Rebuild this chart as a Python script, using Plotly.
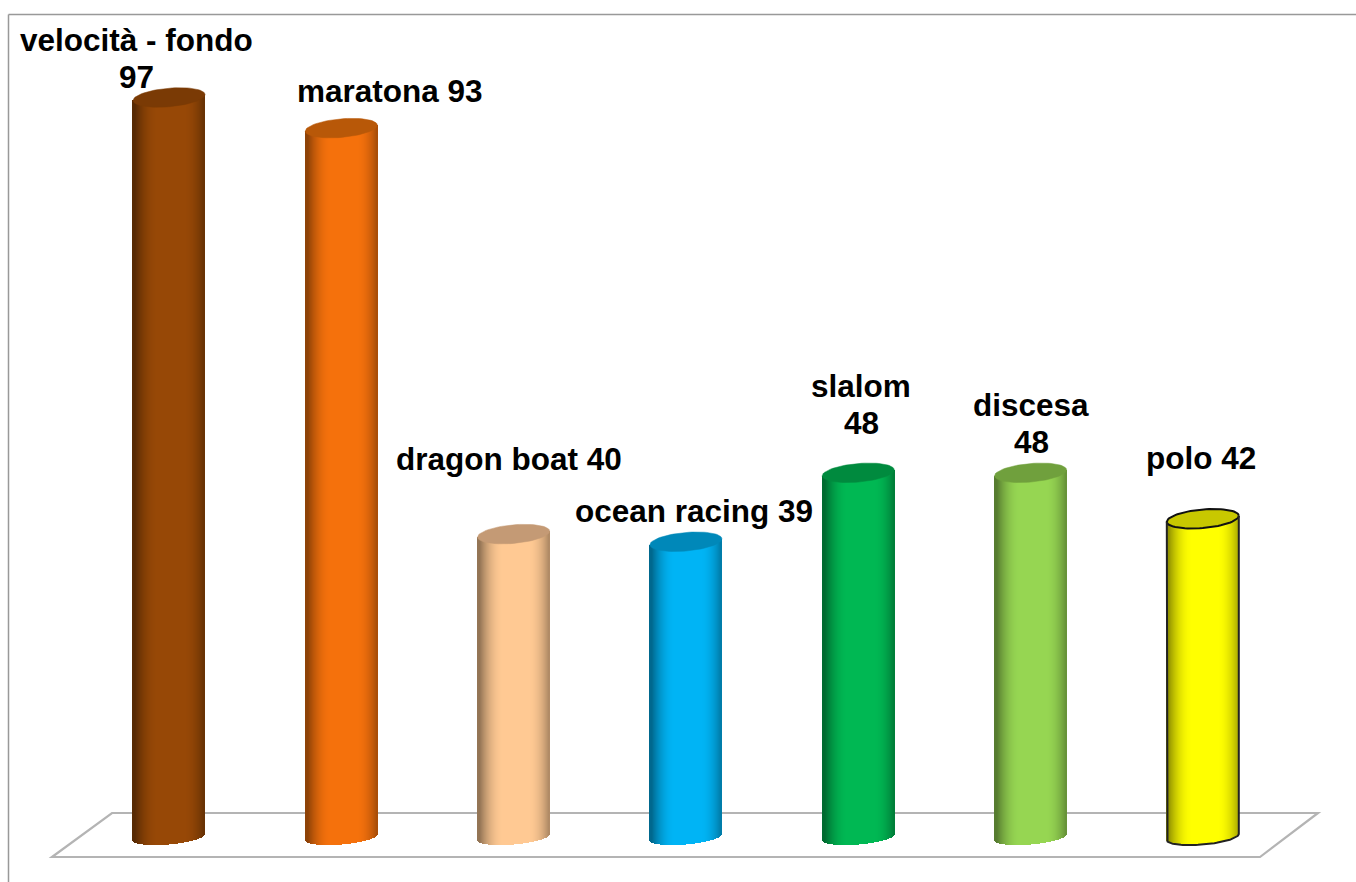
import math
import plotly.graph_objects as go

# ---- chart data ----
categories = ["velocità - fondo", "maratona", "dragon boat", "ocean racing", "slalom", "discesa", "polo"]
values = [97, 93, 40, 39, 48, 48, 42]
body_colors = ["#974806", "#F5710C", "#FFC993", "#00B4F5", "#00B853", "#96D652", "#FFFF00"]
cap_colors = ["#7A3A05", "#B85808", "#C49A75", "#0088B9", "#008A3E", "#70A03D", "#C8C800"]
label_lines = [["velocità - fondo", "97"], ["maratona 93"], ["dragon boat 40"], ["ocean racing 39"],
               ["slalom", "48"], ["discesa", "48"], ["polo 42"]]
outlined = [False, False, False, False, False, False, True]

# ---- layout constants (pixels in the 1356x882 page) ----
W, H = 1356, 882
X0_PX, STEP_PX = 169.0, 172.3      # centre of first cylinder, spacing
Y0_PX, PX_PER_UNIT = 840.5, 7.66   # pixel row of value 0, scale
BASE_PX = 837.0                    # pixel row of the centre of the cylinder bottoms
HALF_W = 36.0                      # cylinder half width
RY_TOP, RY_BOT, TILT = 9.3, 7.5, 3.0   # ellipse half heights, tilt
N = 72
LINE_GAP = 37
label_px = [(136, 58.5), (390, 91), (509, 459), (694, 511), (861, 404), (1031, 423), (1201, 458)]

xr = [(0 - X0_PX) / STEP_PX, (W - X0_PX) / STEP_PX]
yr = [(Y0_PX - H) / PX_PER_UNIT, Y0_PX / PX_PER_UNIT]
dx = HALF_W / STEP_PX
ky = 1 / PX_PER_UNIT
base_v = (Y0_PX - BASE_PX) * ky


def shade(hex_color, f):
    r, g, b = (int(hex_color[i:i + 2], 16) for i in (1, 3, 5))
    return f"rgb({round(r * f)},{round(g * f)},{round(b * f)})"


def factor(u):
    t = min(1.0, max(0.0, (1 - abs(u - 0.08)) / 0.65))
    return 0.58 + 0.42 * (t * (2 - t))


fig = go.Figure()

for i, (v, col, cap, outl) in enumerate(zip(values, body_colors, cap_colors, outlined)):
    us = [-1 + (2 * k + 1) / N for k in range(N)]
    xs = [i + u * dx for u in us]
    bases = [base_v + (TILT * u - RY_BOT * math.sqrt(1 - u * u)) * ky for u in us]
    tops = [v + (TILT * u) * ky for u in us]
    fig.add_trace(go.Bar(
        x=xs, base=bases, y=[t - b for t, b in zip(tops, bases)],
        width=2 * dx / N * 1.15,
        marker=dict(color=[shade(col, factor(u)) for u in us], line=dict(width=0)),
        hoverinfo="skip", showlegend=False,
    ))
    ts = [2 * math.pi * k / 72 for k in range(73)]
    fig.add_trace(go.Scatter(
        x=[i + dx * math.cos(t) for t in ts],
        y=[v + (TILT * math.cos(t) + RY_TOP * math.sin(t)) * ky for t in ts],
        mode="lines", fill="toself", fillcolor=cap,
        line=dict(color="#111111" if outl else cap, width=2 if outl else 0.5),
        hoverinfo="skip", showlegend=False,
    ))
    if outl:
        arc = [math.pi - math.pi * k / 48 for k in range(49)]
        ox = [i - dx] + [i + dx * math.cos(t) for t in arc] + [i + dx]
        oy = [v - TILT * ky] + [base_v + (TILT * math.cos(t) - RY_BOT * math.sin(t)) * ky for t in arc] + [v + TILT * ky]
        fig.add_trace(go.Scatter(x=ox, y=oy, mode="lines", line=dict(color="#222222", width=2),
                                 hoverinfo="skip", showlegend=False))


def px(x):
    return x / W


def py(y):
    return 1 - y / H


floor = [(52, 857), (112, 813), (1318, 813), (1260, 857)]
path = "M " + " L ".join(f"{px(a):.5f},{py(b):.5f}" for a, b in floor) + " Z"
shapes = [
    dict(type="path", xref="paper", yref="paper", path=path, layer="below",
         line=dict(color="#B4B4B4", width=2.2), fillcolor="white"),
    dict(type="line", xref="paper", yref="paper", x0=px(8.5), x1=1, y0=py(14.5), y1=py(14.5),
         line=dict(color="#999999", width=1.5)),
    dict(type="line", xref="paper", yref="paper", x0=px(8.5), x1=px(8.5), y0=py(14.5), y1=0,
         line=dict(color="#999999", width=1.5)),
]

annotations = []
for lines, (a, b) in zip(label_lines, label_px):
    first = b - LINE_GAP * (len(lines) - 1) / 2
    for j, t in enumerate(lines):
        annotations.append(dict(
            x=px(a), y=py(first + j * LINE_GAP), xref="paper", yref="paper",
            text=f"<b>{t}</b>", showarrow=False, xanchor="center", yanchor="middle", align="center",
            font=dict(family="Liberation Sans", size=31.5, color="black"),
        ))

fig.update_layout(
    width=W, height=H, autosize=False,
    margin=dict(l=0, r=0, t=0, b=0),
    paper_bgcolor="white", plot_bgcolor="rgba(0,0,0,0)",
    barmode="overlay", bargap=0,
    xaxis=dict(range=xr, visible=False, fixedrange=True),
    yaxis=dict(range=yr, visible=False, fixedrange=True),
    shapes=shapes, annotations=annotations, showlegend=False,
)

fig.write_html(
    "out.html",
    config={"displayModeBar": False},
    post_script="document.body.style.margin='0';document.documentElement.style.overflow='hidden';",
)
